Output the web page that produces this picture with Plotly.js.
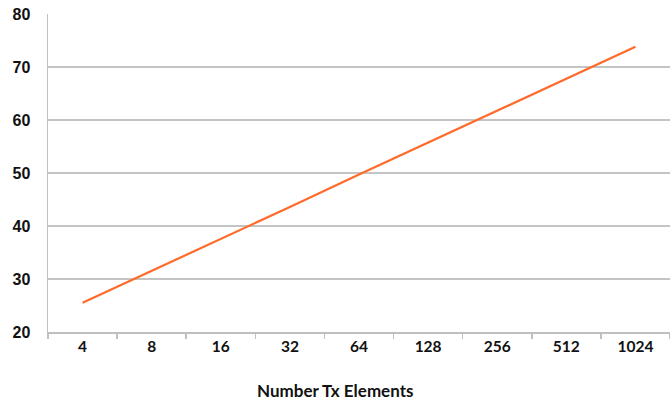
<!DOCTYPE html>
<html>
<head>
<meta charset="utf-8">
<script src="https://cdn.plot.ly/plotly-3.0.1.min.js"></script>
<style>html,body{margin:0;padding:0;background:#fff;}#chart{width:670px;height:400px;}</style>
</head>
<body>
<div id="chart"></div>
<script>
const categories = ["4", "8", "16", "32", "64", "128", "256", "512", "1024"];
const values = [25.5, 31.5, 37.6, 43.6, 49.7, 55.7, 61.8, 67.8, 73.8];
const xTitle = "Number Tx Elements";

const trace = {
  x: categories,
  y: values,
  type: "scatter",
  mode: "lines",
  line: {color: "#ff6a2a", width: 2.2},
  hoverinfo: "skip"
};

const layout = {
  width: 670,
  height: 400,
  margin: {l: 48, r: 0, t: 14, b: 68},
  paper_bgcolor: "#ffffff",
  plot_bgcolor: "#ffffff",
  showlegend: false,
  xaxis: {
    type: "category",
    range: [-0.5, 8.5],
    tickson: "boundaries",
    ticks: "outside",
    ticklen: 5,
    tickwidth: 1.5,
    tickcolor: "#c0c0c0",
    showgrid: false,
    showline: true,
    linecolor: "#c0c0c0",
    linewidth: 1.5,
    zeroline: false,
    tickfont: {family: "Lato, sans-serif", size: 15.5, color: "#111", weight: "bold"}
  },
  yaxis: {
    range: [20, 80],
    dtick: 10,
    tick0: 20,
    showgrid: true,
    gridcolor: "#c4c4c4",
    gridwidth: 1.5,
    showline: true,
    linecolor: "#c0c0c0",
    linewidth: 1.5,
    zeroline: false,
    ticks: "",
    ticklabelstandoff: 13,
    tickfont: {family: "Liberation Sans, Arial, sans-serif", size: 16, color: "#111", weight: "bold"}
  },
  annotations: [{
    text: xTitle,
    xref: "paper", yref: "paper",
    x: 0.461, y: -0.183,
    xanchor: "center", yanchor: "middle",
    showarrow: false,
    font: {family: "Lato, sans-serif", size: 17, color: "#111", weight: "bold"}
  }],
  font: {family: "Lato, sans-serif"}
};

Plotly.newPlot("chart", [trace], layout, {displayModeBar: false, staticPlot: true});
</script>
</body>
</html>
